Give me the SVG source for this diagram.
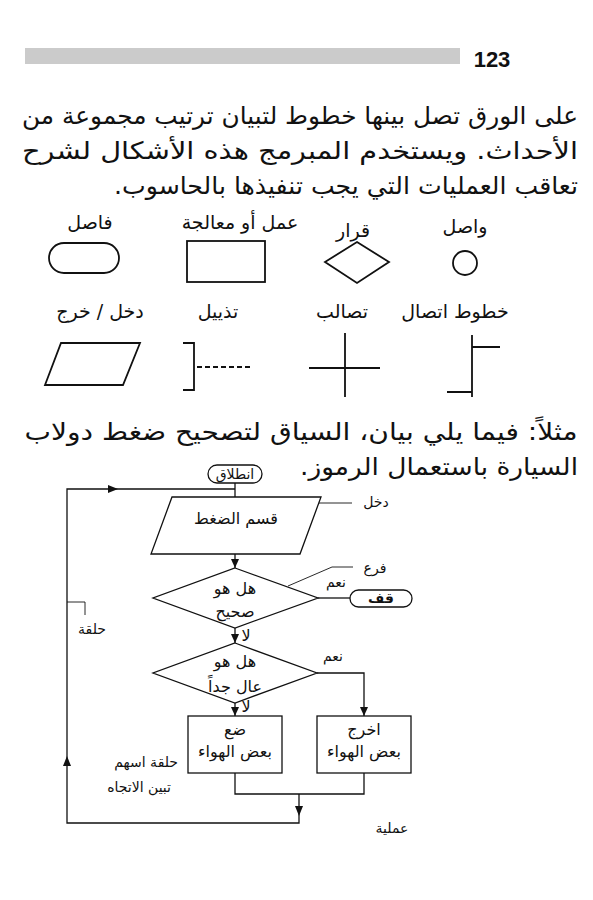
<svg xmlns="http://www.w3.org/2000/svg" width="593" height="900" viewBox="0 0 593 900">
<defs>
<style>
.para{font-family:"DejaVu Sans",sans-serif;font-size:24px;fill:#111;}
.lbl{font-family:"DejaVu Sans",sans-serif;font-size:19px;fill:#111;}
.fc{font-family:"DejaVu Sans",sans-serif;font-size:14px;fill:#111;}
.nt{font-family:"DejaVu Sans",sans-serif;font-size:16px;fill:#111;}
.sh{fill:none;stroke:#111;stroke-width:1.8;}
.nd{fill:#fff;stroke:#111;stroke-width:1.3;}
.ln{fill:none;stroke:#111;stroke-width:1.3;}
.thin{fill:none;stroke:#111;stroke-width:0.9;}
.ah{fill:#111;stroke:none;}
</style>
</defs>
<rect width="593" height="900" fill="#ffffff"/>
<g id="header">
<rect x="25" y="48" width="435" height="16" fill="#cbcbcb"/>
<text x="492" y="67" text-anchor="middle" font-family="Liberation Sans, sans-serif" font-size="22" font-weight="bold" fill="#111">123</text>
</g>
<g id="paragraph1">
<text class="para" direction="rtl" x="300" y="124" text-anchor="middle" textLength="556" lengthAdjust="spacingAndGlyphs">على الورق تصل بينها خطوط لتبيان ترتيب مجموعة من</text>
<text class="para" direction="rtl" x="300" y="159" text-anchor="middle" textLength="556" lengthAdjust="spacingAndGlyphs">الأحداث. ويستخدم المبرمج هذه الأشكال لشرح</text>
<text class="para" direction="rtl" x="346" y="194" text-anchor="middle" textLength="464" lengthAdjust="spacingAndGlyphs">تعاقب العمليات التي يجب تنفيذها بالحاسوب.</text>
</g>
<g id="legend-terminal">
<text class="lbl" direction="rtl" x="90" y="229" text-anchor="middle">فاصل</text>
<rect class="sh" x="49" y="243" width="70" height="30" rx="15"/>
</g>
<g id="legend-process">
<text class="lbl" direction="rtl" x="240" y="229" text-anchor="middle">عمل أو معالجة</text>
<rect class="sh" x="187" y="241" width="78" height="41"/>
</g>
<g id="legend-decision">
<text class="lbl" direction="rtl" x="353" y="237" text-anchor="middle">قرار</text>
<polygon class="sh" points="357,242 389,262 357,283 325,262"/>
</g>
<g id="legend-connector">
<text class="lbl" direction="rtl" x="465" y="233" text-anchor="middle">واصل</text>
<circle class="sh" cx="465" cy="263" r="12"/>
</g>
<g id="legend-io">
<text class="lbl" direction="rtl" x="100" y="318" text-anchor="middle">دخل / خرج</text>
<polygon class="sh" points="61,343 140,343 123,385 45,385"/>
</g>
<g id="legend-annotation">
<text class="lbl" direction="rtl" x="218" y="318" text-anchor="middle">تذييل</text>
<path class="sh" d="M183,343 H194 V390 H183"/>
<path class="sh" d="M197,367 H253" stroke-dasharray="5,3"/>
</g>
<g id="legend-crossing">
<text class="lbl" direction="rtl" x="342" y="318" text-anchor="middle">تصالب</text>
<path class="sh" d="M345,333 V397 M309,368 H380"/>
</g>
<g id="legend-lines">
<text class="lbl" direction="rtl" x="455" y="318" text-anchor="middle">خطوط اتصال</text>
<path class="sh" d="M472,335 V397 M472,347 H500 M447,392 H472"/>
</g>
<g id="paragraph2">
<text class="para" direction="rtl" x="301" y="440" text-anchor="middle" textLength="553" lengthAdjust="spacingAndGlyphs">مثلاً: فيما يلي بيان، السياق لتصحيح ضغط دولاب</text>
<text class="para" direction="rtl" x="439" y="475" text-anchor="middle" textLength="278" lengthAdjust="spacingAndGlyphs">السيارة باستعمال الرموز.</text>
</g>
<g id="connectors">
<path class="ln" d="M235,483 V497"/>
<path class="ln" d="M299,794 V823 H67 V489 H235"/>
<path class="ln" d="M235,554 V568"/>
<path class="ln" d="M318,598 H350"/>
<path class="ln" d="M235,628 V643"/>
<path class="ln" d="M317,673 H364 V716"/>
<path class="ln" d="M235,703 V716"/>
<path class="ln" d="M235,773 V794 H364 V773"/>
<polygon class="ah" points="118,489 108,485 108,493"/>
<polygon class="ah" points="67,756 63,766 71,766"/>
<polygon class="ah" points="235,568 231,559 239,559"/>
<polygon class="ah" points="235,643 231,634 239,634"/>
<polygon class="ah" points="364,716 360,707 368,707"/>
<polygon class="ah" points="235,716 231,707 239,707"/>
<polygon class="ah" points="299,816 295,806 303,806"/>
</g>
<g id="annotations">
<path class="thin" d="M319,503 H352"/>
<text class="fc" direction="rtl" x="376" y="507" text-anchor="middle">دخل</text>
<path class="thin" d="M288,586 L332,567 H353"/>
<text class="fc" direction="rtl" x="375" y="573" text-anchor="middle">فرع</text>
<path class="thin" d="M67,602 H85 V615"/>
<text class="fc" direction="rtl" x="92" y="634" text-anchor="middle">حلقة</text>
<text class="fc" direction="rtl" x="178" y="767" text-anchor="start">حلقة اسهم</text>
<text class="fc" direction="rtl" x="171" y="792" text-anchor="start">تبين الاتجاه</text>
<text class="fc" direction="rtl" x="392" y="833" text-anchor="middle">عملية</text>
</g>
<g id="start">
<rect class="nd" x="208" y="465" width="54" height="18" rx="9"/>
<text class="fc" x="235" y="478.5" text-anchor="middle" font-size="12">انطلاق</text>
</g>
<g id="input">
<polygon class="nd" points="172,497 321,497 300,554 151,554"/>
<text class="nt" direction="rtl" x="236" y="524" text-anchor="middle">قسم الضغط</text>
</g>
<g id="decision1">
<polygon class="nd" points="235,568 318,598 235,628 153,598"/>
<text class="nt" direction="rtl" x="235" y="594" text-anchor="middle">هل هو</text>
<text class="nt" direction="rtl" x="235" y="617" text-anchor="middle">صحيح</text>
<text class="fc" direction="rtl" x="336" y="587" text-anchor="middle">نعم</text>
<text class="nt" direction="rtl" x="246" y="641" text-anchor="middle">لا</text>
</g>
<g id="stop">
<rect class="nd" x="350" y="590" width="62" height="17" rx="8.5"/>
<text class="fc" direction="rtl" x="381" y="603" text-anchor="middle" font-weight="bold">قف</text>
</g>
<g id="decision2">
<polygon class="nd" points="235,643 317,673 235,703 153,673"/>
<text class="nt" direction="rtl" x="235" y="667" text-anchor="middle">هل هو</text>
<text class="nt" direction="rtl" x="235" y="692" text-anchor="middle">عال جداً</text>
<text class="fc" direction="rtl" x="333" y="661" text-anchor="middle">نعم</text>
<text class="nt" direction="rtl" x="246" y="712" text-anchor="middle">لا</text>
</g>
<g id="add-air">
<rect class="nd" x="188" y="716" width="94" height="57"/>
<text class="nt" direction="rtl" x="235" y="735" text-anchor="middle">ضع</text>
<text class="nt" direction="rtl" x="235" y="757" text-anchor="middle">بعض الهواء</text>
</g>
<g id="release-air">
<rect class="nd" x="317" y="716" width="94" height="57"/>
<text class="nt" direction="rtl" x="364" y="735" text-anchor="middle">اخرج</text>
<text class="nt" direction="rtl" x="364" y="757" text-anchor="middle">بعض الهواء</text>
</g>
</svg>
